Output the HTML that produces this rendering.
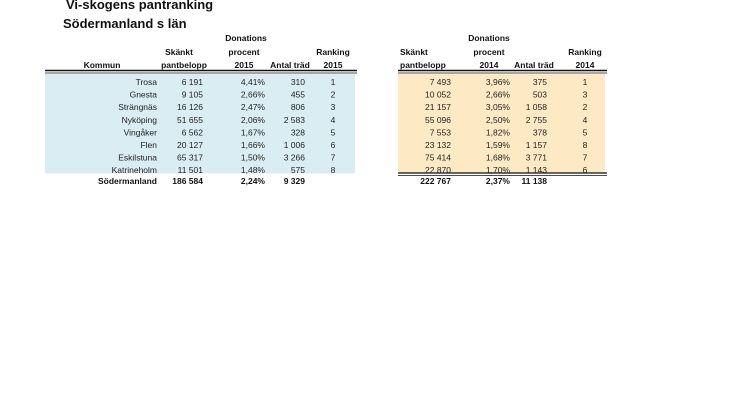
<!DOCTYPE html>
<html><head><meta charset="utf-8">
<style>
html,body{margin:0;padding:0;background:#fff;width:746px;height:419px;overflow:hidden}
svg{display:block;font-family:"Liberation Sans",sans-serif}
text{font-size:8.5px;fill:#222}
.h{font-weight:bold;fill:#111}
.t{font-size:13px;font-weight:bold;fill:#111}
</style></head><body>
<svg width="746" height="419">
<text class="t" x="66" y="9">Vi-skogens pantranking</text>
<text class="t" x="63" y="28">Södermanland s län</text>
<g id="left"></g>
<g id="right"></g>
</svg>
<script>
const kommuner=["Trosa","Gnesta","Strängnäs","Nyköping","Vingåker","Flen","Eskilstuna","Katrineholm"];
const belopp2015=["6 191","9 105","16 126","51 655","6 562","20 127","65 317","11 501"];
const procent2015=["4,41%","2,66%","2,47%","2,06%","1,67%","1,66%","1,50%","1,48%"];
const trad2015=["310","455","806","2 583","328","1 006","3 266","575"];
const rank2015=["1","2","3","4","5","6","7","8"];
const total2015=["186 584","2,24%","9 329"];
const belopp2014=["7 493","10 052","21 157","55 096","7 553","23 132","75 414","22 870"];
const procent2014=["3,96%","2,66%","3,05%","2,50%","1,82%","1,59%","1,68%","1,70%"];
const trad2014=["375","503","1 058","2 755","378","1 157","3 771","1 143"];
const rank2014=["1","3","2","4","5","8","7","6"];
const total2014=["222 767","2,37%","11 138"];
const NS="http://www.w3.org/2000/svg";
function el(p,tag,a,txt){const e=document.createElementNS(NS,tag);for(const k in a)e.setAttribute(k,a[k]);if(txt!==undefined)e.textContent=txt;p.appendChild(e);return e;}
const rowY=i=>82+i*12.6;
function build(g,x0,x1,fill,cols,hdr,data,total,names,dbl){
  const bg=el(g,'rect',{x:x0,y:74,width:x1-x0,height:99.5,fill:fill});
  
  
  [70.5,73].forEach(y=>{const l=el(g,'line',{x1:x0,x2:x1+2,y1:y,y2:y,stroke:'#111','stroke-width':y<72?1.4:0.8});
    });
  if(dbl)[173,175.5].forEach(y=>{const l=el(g,'line',{x1:x0,x2:x1+2,y1:y,y2:y,stroke:'#111','stroke-width':y<174?1.2:0.8});
    });
  hdr.forEach(h=>{const t=el(g,'text',{x:h[0],y:h[1],'text-anchor':h[3]||'middle',class:'h'},h[2]);
    });
  data.forEach((arr,c)=>arr.forEach((v,i)=>{const t=el(g,'text',{x:cols[c][0],y:rowY(i)+3,'text-anchor':cols[c][1]},v);
    }));
  total.forEach((v,c)=>{const t=el(g,'text',{x:cols[c+names][0],y:184,'text-anchor':'end',class:'h'},v);
    });
}
const L=document.getElementById('left');
build(L,45,355,'#daedf3',[[157,'end'],[203,'end'],[265,'end'],[305,'end'],[333,'middle']],
 [[102,68,'Kommun'],[179,55,'Skänkt'],[184,68,'pantbelopp'],[246,41,'Donations'],[244,55,'procent'],[244,68,'2015'],[290,68,'Antal träd'],[333,55,'Ranking'],[333,68,'2015']],
 [kommuner,belopp2015,procent2015,trad2015,rank2015],total2015,1,false);
const tl=el(L,'text',{x:157,y:184,'text-anchor':'end',class:'h'},'Södermanland');


const R=document.getElementById('right');
build(R,398,605,'#fde9c3',[[451,'end'],[510,'end'],[547,'end'],[585,'middle']],
 [[400,55,'Skänkt','start'],[400,68,'pantbelopp','start'],[489,41,'Donations'],[489,55,'procent'],[489,68,'2014'],[534,68,'Antal träd'],[585,55,'Ranking'],[585,68,'2014']],
 [belopp2014,procent2014,trad2014,rank2014],total2014,0,true);
</script>
</body></html>
